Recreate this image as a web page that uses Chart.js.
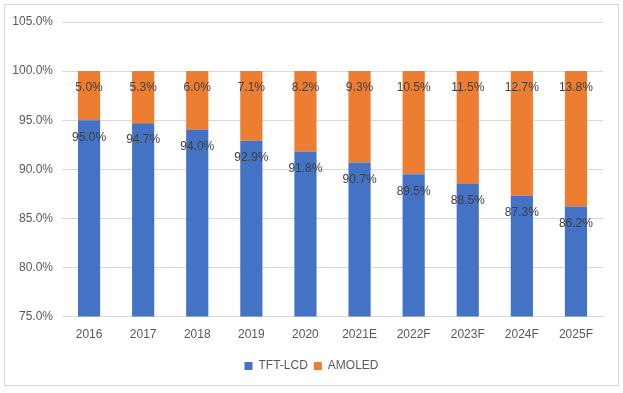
<!DOCTYPE html>
<html>
<head>
<meta charset="utf-8">
<script src="https://cdn.jsdelivr.net/npm/chart.js@4"></script>
<style>
  body { margin: 0; background: #fff; }
  #wrap { position: relative; width: 623px; height: 393px; }
</style>
</head>
<body>
<div id="wrap"><canvas id="barChart" width="623" height="393"></canvas></div>
<script>
const years = ['2016', '2017', '2018', '2019', '2020', '2021E', '2022F', '2023F', '2024F', '2025F'];
const tftLcd = [95.0, 94.7, 94.0, 92.9, 91.8, 90.7, 89.5, 88.5, 87.3, 86.2];
const amoled = [5.0, 5.3, 6.0, 7.1, 8.2, 9.3, 10.5, 11.5, 12.7, 13.8];

const FONT = "'Liberation Sans', Arial, sans-serif";

// white background + thin frame like the Excel chart area
const frame = {
    id: 'frame',
    beforeDraw(chart) {
        const ctx = chart.ctx;
        ctx.save();
        ctx.fillStyle = '#fff';
        ctx.fillRect(0, 0, chart.width, chart.height);
        ctx.strokeStyle = '#d9d9d9';
        ctx.lineWidth = 1;
        ctx.strokeRect(4.5, 4.5, 614, 381);
        ctx.restore();
    },
    // center the legend on the whole canvas, not only the padded box
    afterLayout(chart) {
        chart.legend.left += 10;
        chart.legend.right += 10;
    }
};

// value labels just inside the top of each segment
const valueLabels = {
    id: 'valueLabels',
    afterDatasetsDraw(chart) {
        const ctx = chart.ctx;
        ctx.save();
        ctx.font = '12px ' + FONT;
        ctx.fillStyle = '#404040';
        ctx.textAlign = 'center';
        ctx.textBaseline = 'middle';
        chart.data.datasets.forEach((ds, i) => {
            chart.getDatasetMeta(i).data.forEach((bar, j) => {
                ctx.fillText(ds.data[j].toFixed(1) + '%', bar.x, bar.y + 17);
            });
        });
        ctx.restore();
    }
};

const CHART = document.getElementById('barChart');
let barChart = new Chart(CHART, {
    type: 'bar',
    data: {
        labels: years,
        datasets: [
            {
                label: 'TFT-LCD',
                data: tftLcd,
                backgroundColor: '#4472C4',
                borderWidth: 0,
                barPercentage: 0.41,
                categoryPercentage: 1
            },
            {
                label: 'AMOLED',
                data: amoled,
                backgroundColor: '#ED7D31',
                borderWidth: 0,
                barPercentage: 0.41,
                categoryPercentage: 1
            }
        ]
    },
    options: {
        responsive: false,
        animation: false,
        layout: { padding: { top: 22, right: 20, left: 0, bottom: 11 } },
        plugins: {
            legend: {
                position: 'bottom',
                labels: {
                    boxWidth: 8,
                    boxHeight: 8,
                    color: '#595959',
                    font: { family: FONT, size: 12 },
                    padding: 6
                }
            },
            tooltip: { enabled: false }
        },
        scales: {
            x: {
                stacked: true,
                grid: { display: false },
                border: { display: true, color: '#d9d9d9' },
                ticks: { color: '#595959', font: { family: FONT, size: 12 }, padding: 3 },
                afterFit(scale) { scale.height += 9; }
            },
            y: {
                stacked: true,
                min: 75,
                max: 105,
                grid: { color: '#d9d9d9', drawTicks: false },
                border: { display: false },
                ticks: {
                    stepSize: 5,
                    color: '#595959',
                    font: { family: FONT, size: 12 },
                    padding: 9,
                    callback: v => v.toFixed(1) + '%'
                },
                afterFit(scale) { scale.width = 62; }
            }
        }
    },
    plugins: [frame, valueLabels]
});
</script>
</body>
</html>
